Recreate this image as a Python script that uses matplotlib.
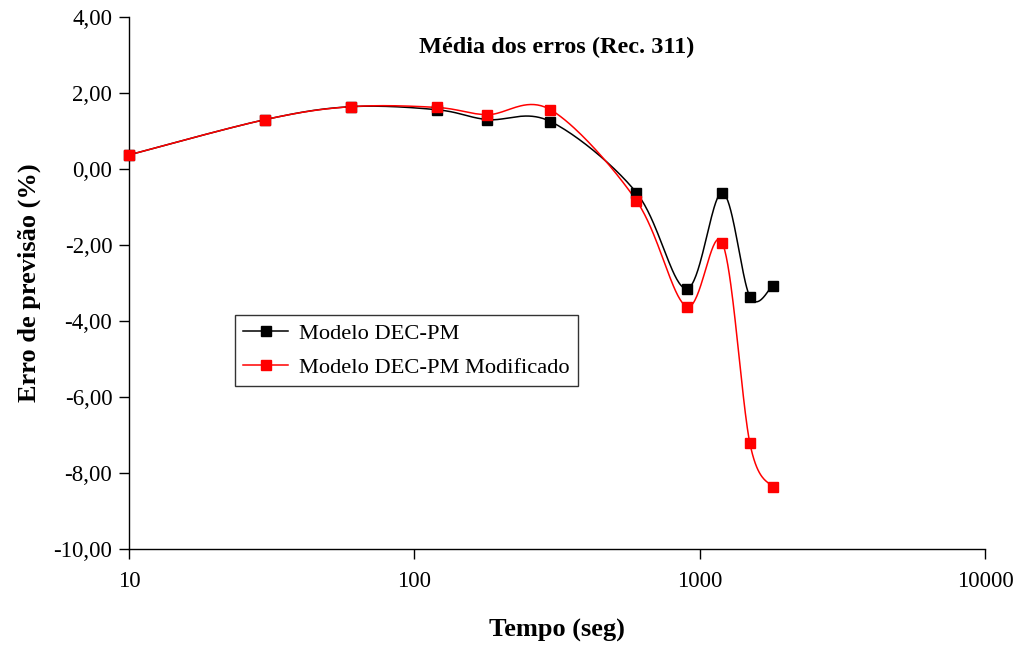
import numpy as np
import matplotlib.pyplot as plt
from matplotlib.ticker import FuncFormatter, FixedLocator, NullLocator

plt.rcParams['font.family'] = ['Liberation Serif', 'DejaVu Serif']

tempo = [10, 30, 60, 120, 180, 300, 600, 900, 1200, 1500, 1800]
erro_dec_pm = [0.37, 1.30, 1.64, 1.56, 1.30, 1.25, -0.62, -3.15, -0.62, -3.36, -3.08]
erro_dec_pm_mod = [0.37, 1.30, 1.64, 1.62, 1.43, 1.56, -0.83, -3.62, -1.94, -7.22, -8.38]


def smooth(xs, ys, n=40):
    # Catmull-Rom curve through the points, built in log-x space
    u = np.log10(np.asarray(xs, float))
    v = np.asarray(ys, float)
    pts = np.column_stack([u, v])
    out = []
    for i in range(len(pts) - 1):
        p0 = pts[i - 1] if i > 0 else pts[i]
        p1, p2 = pts[i], pts[i + 1]
        p3 = pts[i + 2] if i + 2 < len(pts) else pts[i + 1]
        c1 = p1 + (p2 - p0) / 6
        c2 = p2 - (p3 - p1) / 6
        t = np.linspace(0, 1, n)[:, None]
        seg = ((1 - t) ** 3 * p1 + 3 * (1 - t) ** 2 * t * c1
               + 3 * (1 - t) * t ** 2 * c2 + t ** 3 * p2)
        out.append(seg if i == 0 else seg[1:])
    curve = np.vstack(out)
    return 10 ** curve[:, 0], curve[:, 1]


fig = plt.figure(figsize=(10.16, 6.48), dpi=100)
ax = fig.add_axes([129 / 1016, 1 - 549 / 648, (985 - 129) / 1016, (549 - 17) / 648])

for ys, col, lab in [(erro_dec_pm, 'black', 'Modelo DEC-PM'),
                     (erro_dec_pm_mod, '#ff0000', 'Modelo DEC-PM Modificado')]:
    sx, sy = smooth(tempo, ys)
    ax.plot(sx, sy, color=col, lw=1.1, zorder=2)
    ax.plot(tempo, ys, ls='none', marker='s', ms=7.5, color=col, zorder=3, clip_on=False)
    ax.plot([], [], color=col, lw=1.1, marker='s', ms=6.5, label=lab)

ax.set_xscale('log')
ax.set_xlim(10, 10000)
ax.set_ylim(-10, 4)
ax.xaxis.set_major_locator(FixedLocator([10, 100, 1000, 10000]))
ax.xaxis.set_minor_locator(NullLocator())
ax.xaxis.set_major_formatter(FuncFormatter(lambda v, p: f'{int(v)}'))
ax.set_yticks(np.arange(-10, 4.1, 2))
ax.yaxis.set_major_formatter(FuncFormatter(lambda v, p: f'{v:.2f}'.replace('.', ',')))

for s in ['top', 'right']:
    ax.spines[s].set_visible(False)
for s in ['left', 'bottom']:
    ax.spines[s].set_linewidth(1.0)
ax.tick_params(axis='both', direction='out', length=7, width=1.0, labelsize=16.5)
ax.tick_params(axis='x', pad=9)
ax.tick_params(axis='y', pad=5)

ax.set_xlabel('Tempo (seg)', fontsize=19, fontweight='bold', labelpad=19)
ax.set_ylabel('Erro de previsão (%)', fontsize=19, fontweight='bold', labelpad=9)
ax.text(0.5, 0.943, 'Média dos erros (Rec. 311)', transform=ax.transAxes,
        ha='center', va='center', fontsize=17.5, fontweight='bold')

leg = ax.legend(loc='upper left', bbox_to_anchor=(0.124, 0.44), fontsize=16.2,
                frameon=True, fancybox=False, edgecolor='black', handlelength=2.0,
                handletextpad=0.5, borderpad=0.35, labelspacing=0.6, borderaxespad=0)
leg.get_frame().set_linewidth(1.0)

fig.savefig('out.png', dpi=100)
